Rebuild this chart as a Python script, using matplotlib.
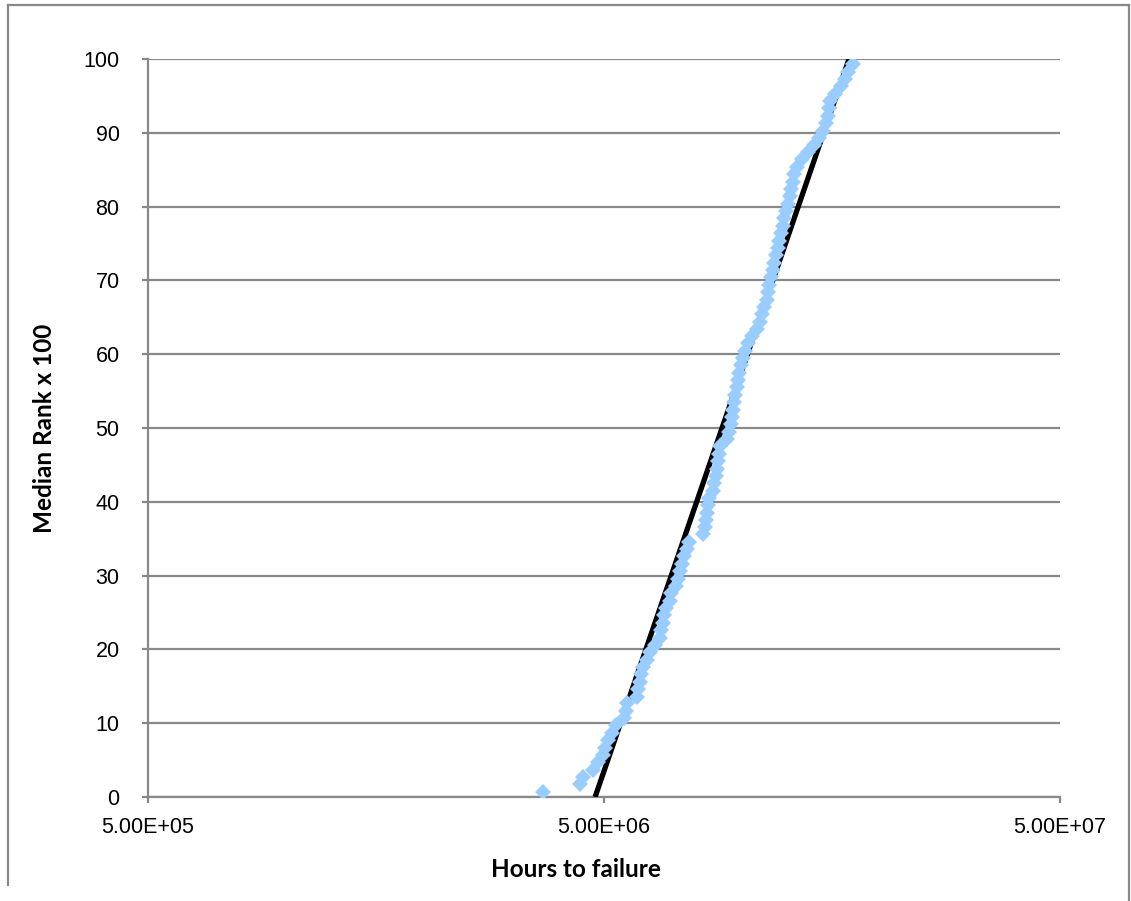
import matplotlib
matplotlib.use("Agg")
import matplotlib.pyplot as plt
from matplotlib.lines import Line2D
from matplotlib.ticker import FixedLocator, NullLocator

# median rank (x 100) of each failure
median_rank = [
    0.7, 1.7, 2.7, 3.7, 4.7, 5.7, 6.7, 7.7, 8.7, 9.7,
    10.7, 11.7, 12.7, 13.6, 14.6, 15.6, 16.6, 17.6, 18.6, 19.6,
    20.6, 21.6, 22.6, 23.6, 24.6, 25.6, 26.6, 27.6, 28.6, 29.6,
    30.6, 31.6, 32.6, 33.6, 34.6, 35.6, 36.6, 37.6, 38.5, 39.5,
    40.5, 41.5, 42.5, 43.5, 44.5, 45.5, 46.5, 47.5, 48.5, 49.5,
    50.5, 51.5, 52.5, 53.5, 54.5, 55.5, 56.5, 57.5, 58.5, 59.5,
    60.5, 61.5, 62.5, 63.4, 64.4, 65.4, 66.4, 67.4, 68.4, 69.4,
    70.4, 71.4, 72.4, 73.4, 74.4, 75.4, 76.4, 77.4, 78.4, 79.4,
    80.4, 81.4, 82.4, 83.4, 84.4, 85.4, 86.4, 87.4, 88.3, 89.3,
    90.3, 91.3, 92.3, 93.3, 94.3, 95.3, 96.3, 97.3, 98.3, 99.3,
]

# hours to failure
hours = [
    3.68e6, 4.43e6, 4.50e6, 4.73e6, 4.85e6, 4.97e6, 5.03e6, 5.10e6, 5.21e6, 5.30e6,
    5.53e6, 5.59e6, 5.62e6, 5.91e6, 5.94e6, 6.00e6, 6.03e6, 6.09e6, 6.21e6, 6.31e6,
    6.47e6, 6.63e6, 6.67e6, 6.74e6, 6.77e6, 6.84e6, 6.98e6, 7.01e6, 7.19e6, 7.27e6,
    7.34e6, 7.41e6, 7.49e6, 7.60e6, 7.68e6, 8.24e6, 8.33e6, 8.37e6, 8.41e6, 8.45e6,
    8.50e6, 8.67e6, 8.71e6, 8.80e6, 8.85e6, 8.89e6, 8.94e6, 8.98e6, 9.31e6, 9.40e6,
    9.50e6, 9.54e6, 9.59e6, 9.64e6, 9.69e6, 9.79e6, 9.84e6, 9.89e6, 9.99e6, 10.09e6,
    10.19e6, 10.35e6, 10.56e6, 10.83e6, 10.99e6, 11.10e6, 11.22e6, 11.39e6, 11.45e6, 11.50e6,
    11.62e6, 11.74e6, 11.80e6, 11.92e6, 12.04e6, 12.10e6, 12.22e6, 12.35e6, 12.41e6, 12.53e6,
    12.66e6, 12.79e6, 12.85e6, 12.98e6, 13.05e6, 13.25e6, 13.59e6, 14.00e6, 14.43e6, 14.81e6,
    15.11e6, 15.34e6, 15.50e6, 15.57e6, 15.65e6, 16.05e6, 16.55e6, 16.88e6, 17.14e6, 17.58e6,
]

# fitted line (end points)
fit_hours = [4.78e6, 17.23e6]
fit_rank = [0, 100]

x_ticks = [5e5, 5e6, 5e7]
y_ticks = [0, 10, 20, 30, 40, 50, 60, 70, 80, 90, 100]

grey = "#898989"

fig = plt.figure(figsize=(11.31, 9.01), dpi=100)
ax = fig.add_axes([148 / 1131, 104 / 901, 912 / 1131, 738 / 901])

ax.plot(fit_hours, fit_rank, color="black", linewidth=3.8, solid_capstyle="butt", zorder=3)
ax.plot(hours, median_rank, linestyle="none", marker="D", markersize=8.5,
        color="#99CCFF", markeredgewidth=0, zorder=4)

ax.set_xscale("log")
ax.set_xlim(5e5, 5e7)
ax.set_ylim(0, 100)
ax.xaxis.set_major_locator(FixedLocator(x_ticks))
ax.xaxis.set_minor_locator(NullLocator())
ax.set_xticklabels([f"{v:.2E}" for v in x_ticks])
ax.set_yticks(y_ticks)

ax.grid(axis="y", color=grey, linewidth=1.6)
ax.set_axisbelow(True)
for s in ["top", "right"]:
    ax.spines[s].set_visible(False)
for s in ["left", "bottom"]:
    ax.spines[s].set_color(grey)
    ax.spines[s].set_linewidth(1.6)

ax.tick_params(axis="y", length=4.5, width=1.6, color=grey, pad=16,
               labelsize=15.5, labelfontfamily="Liberation Sans")
ax.tick_params(axis="x", length=4.5, width=1.6, color=grey, pad=10,
               labelsize=15.5, labelfontfamily="Liberation Sans")

ax.set_xlabel("Hours to failure", fontsize=17.5, fontweight="bold", fontfamily="Lato")
ax.set_ylabel("Median Rank x 100", fontsize=17.5, fontweight="bold", fontfamily="Lato")
ax.xaxis.set_label_coords(428 / 912, -61 / 738)
ax.yaxis.set_label_coords(-92 / 912, 0.5)

# chart area frame
W, H = 1131, 901
fig.add_artist(Line2D([8 / W, 1129 / W], [1 - 5 / H, 1 - 5 / H], color=grey, linewidth=1.6))
fig.add_artist(Line2D([8 / W, 8 / W], [1 - 5 / H, 1 - 885 / H], color=grey, linewidth=1.6))
fig.add_artist(Line2D([1129 / W, 1129 / W], [1 - 5 / H, 0], color=grey, linewidth=1.6))

fig.savefig("out.png", dpi=100)
